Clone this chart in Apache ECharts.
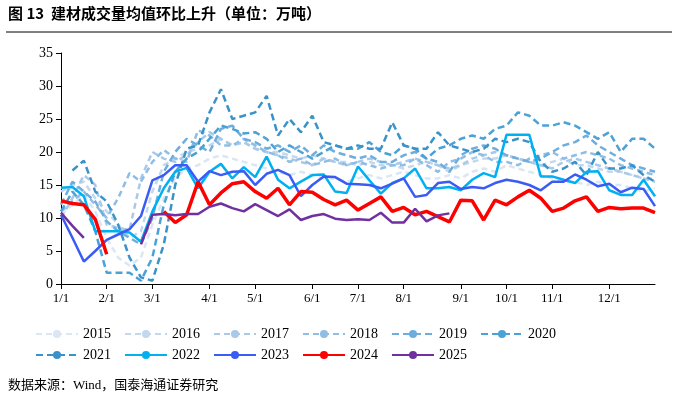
<!DOCTYPE html>
<html><head><meta charset="utf-8">
<script src="https://cdn.jsdelivr.net/npm/echarts@6/dist/echarts.min.js"></script>
<style>body{margin:0;background:#fff}#c{width:678px;height:406px}</style></head>
<body><div id="c"></div>
<script>
const years=['2015','2016','2017','2018','2019','2020','2021','2022','2023','2024','2025'];
const monthLabels={0:'1/1',4:'2/1',8:'3/1',13:'4/1',17:'5/1',22:'6/1',26:'7/1',30:'8/1',35:'9/1',39:'10/1',43:'11/1',48:'12/1'};
const weeks=Array.from({length:53},(_,i)=>'w'+i);
const d2015=[10.5,12,13.5,11,7,4,2.8,4,9,13,16,17.5,18,19,19.5,19,18.5,18,17.5,17,16.5,17,16.5,16,16,15.5,16,16.5,16,16.5,17,16.5,16,16,16.5,16,17,17.5,17,18,17.5,17,16.5,16,15.5,15.5,15,15.5,15,15,14.5,14,14.5];
const d2016=[14,15,15.5,13,11,9,7,8,14,18,19,20,20.5,21,22,21,21.5,20.5,20,20,19.5,19,19.5,19,18.5,18.5,18,18.5,18,18,17.5,18,18.5,18,17,18,18.5,19,19,19.5,19,18.5,18,18.5,19,18,18,17.5,17,17,16.5,16,16];
const d2017=[10,13,16.5,15,9,8.5,8.2,16,20,19,18.5,19.5,21.5,23,22,21,21.5,20.5,20,19.5,19,18.5,18,19,18.5,18,18.5,19,18.5,18,18.5,19,18.5,18,17.5,18,19,19.5,20,19.5,19,18.5,18,17.5,18.5,19,18.5,18,17.5,17,16.5,16,15.5];
const d2018=[11,12.5,14,12,10,13,16.8,15.5,18.5,20.3,19,18.5,23.3,22.5,21,21,22,21,20,19.5,18.5,19,18,18.5,19,18,18.5,18,17.5,18,18,19,18,17,18.5,19,20,19.5,18.5,18.5,18,19,19.5,20,19,19.5,20,19.5,19,18,17.5,17,16.5];
const d2019=[12,15.5,14,12.5,9.5,8,7,6,10,17,20,22,21,20,23.5,24,22,21.5,20.5,21,20,21,19.5,21,20,19.5,19,19.5,18.5,18.5,19.5,20,19,18.5,17,19.5,20.5,21,20.5,19.5,19,18.5,19,20,21,21.5,22.5,21,20,19,18,17.5,17];
const d2020=[11,14,12,8,1.7,1.7,1.7,0.5,4,12,17,19,20,22,24,23.5,22.8,23,22,20,21,20,19,20,21,20.5,20.5,21.5,20,19.5,21,20.5,19,20.5,21,22,22.5,22,23.5,24,26,25.5,24,24,24.5,24,23,22,23,20,22,22,20.5];
const d2021=[null,17.2,18.7,14,12.5,9,4,1,0.5,6,15,20.5,21,26,29.5,25,25.5,26,28.5,22.5,25,23,25.5,21.5,21,20.5,21,20.5,20.5,24.5,21,20.5,20.5,23,21,20.5,20,20.5,22,21.5,22,21.5,18.5,17,17.5,18.5,16.5,20,17.5,17.5,18,16.5,15.5];
const d2022=[14.6,14.7,13.3,8,8,8,7.8,6.4,11,14.5,17,17.6,14.5,17,18.2,16,17.7,16.2,19.3,15.8,14.5,15.5,16.5,16.6,14,13.8,17.8,15.7,13.7,15.3,16,17.5,14.5,14.5,14.7,14.2,15.8,16.8,16.2,22.6,22.6,22.6,16.3,16.3,15.8,15.3,17,17.1,14.2,13.5,13.5,15.8,13.3];
const d2023=[10.5,7,3.4,5,6.7,7.5,8.3,10.3,15.7,16.5,18,18,15.5,17.1,16.5,17,17.1,15,16.7,17.3,16.5,13.3,15,16.3,16.2,15.2,15.1,15,14.5,15.2,16,13.2,13.5,15.3,15.5,14.4,14.7,14.5,15.3,15.8,15.5,15,14.2,15.5,15.5,16.6,15.8,14.8,15.2,13.9,14.6,14.4,11.8];
const d2024=[12.6,12.2,12,9.8,4.5,null,null,null,null,11,9.3,10.5,15.5,12,13.8,15.2,15.5,14,13,14.5,12,14,13.9,12.8,12,12.7,11.2,12.2,13.2,11,11.6,10.5,11,10.2,9.4,12.7,12.6,9.7,12.7,12,13.2,14.2,13,11,11.5,12.6,13.2,11,11.6,11.4,11.5,11.5,10.8];
const d2025=[10.8,8.8,7,null,null,null,null,6,10.5,10.6,10.4,10.6,10.6,11.7,12.2,11.5,11,12.1,11.2,10.3,11.3,9.7,10.3,10.6,9.9,9.7,9.8,9.7,10.8,9.3,9.3,11.4,9.5,10.4,10.7];
const data=[d2015,d2016,d2017,d2018,d2019,d2020,d2021,d2022,d2023,d2024,d2025];
const colors=['#dae6f3','#c3d8ee','#a8c9e8','#8fbde4','#6eaede','#4ba2d6','#3a93c8','#00b0f0','#3b5bf5','#ff0000','#7030a0'];
const series=years.map((y,i)=>({name:y,type:'line',data:data[i],symbol:'none',connectNulls:false,
  lineStyle:{color:colors[i],width:i===9?3.5:2.5,type:i<7?(i<4?[6,4]:[7,4]):'solid'},
  itemStyle:{color:colors[i]},z:i}));
const legendBase={orient:'horizontal',itemWidth:42,itemHeight:10,itemGap:13,
  textStyle:{fontFamily:'Liberation Serif',fontSize:14,color:'#000'}};
const chart=echarts.init(document.getElementById('c'));
chart.setOption({animation:false,
 graphic:[{type:'text',left:8,top:6,style:{text:'图 13  建材成交量均值环比上升（单位：万吨）',font:'bold 15px "Noto Sans CJK SC"',fill:'#000'}},
  {type:'line',shape:{x1:6,y1:32,x2:672,y2:32},style:{stroke:'#000',lineWidth:1}},
  {type:'text',left:8,top:379,style:{text:'数据来源：Wind，国泰海通证券研究',font:'13px "Liberation Serif","Noto Sans CJK SC"',fill:'#000'}}],
 grid:{left:61,right:23,top:53,bottom:122},
 legend:[Object.assign({left:30,top:322,data:years.slice(0,6)},legendBase),
         Object.assign({left:30,top:343,data:years.slice(6)},legendBase)],
 xAxis:{type:'category',data:weeks,boundaryGap:false,
  axisLine:{lineStyle:{color:'#000'}},
  axisTick:{interval:(i)=>i in monthLabels,lineStyle:{color:'#000'}},
  axisLabel:{interval:(i)=>i in monthLabels,formatter:(v,i)=>monthLabels[i]||'',fontFamily:'Liberation Serif',fontSize:13,color:'#000'}},
 yAxis:{type:'value',min:0,max:35,interval:5,splitLine:{show:false},
  axisLine:{show:true,lineStyle:{color:'#000'}},axisTick:{show:true,lineStyle:{color:'#000'}},
  axisLabel:{fontFamily:'Liberation Serif',fontSize:14,color:'#000'}},
 series});
</script></body></html>
